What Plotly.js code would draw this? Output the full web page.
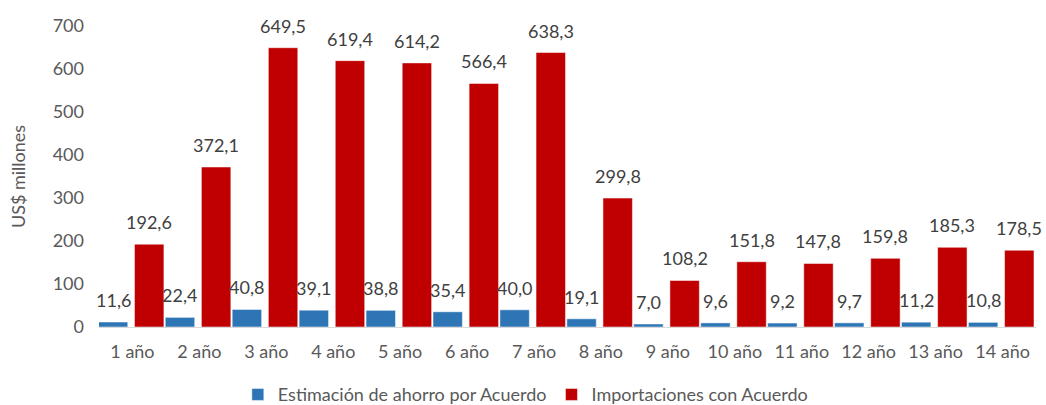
<!DOCTYPE html>
<html><head><meta charset="utf-8">
<script src="https://cdn.plot.ly/plotly-3.0.1.min.js"></script>
<style>body{margin:0;background:#fff}#c{width:1046px;height:405px}</style>
</head><body><div id="c"></div>
<script>
const categories = ["1 año","2 año","3 año","4 año","5 año","6 año","7 año","8 año","9 año","10 año","11 año","12 año","13 año","14 año"];
const ahorro = [11.6,22.4,40.8,39.1,38.8,35.4,40.0,19.1,7.0,9.6,9.2,9.7,11.2,10.8];
const importaciones = [192.6,372.1,649.5,619.4,614.2,566.4,638.3,299.8,108.2,151.8,147.8,159.8,185.3,178.5];
const seriesNames = ["Estimación de ahorro por Acuerdo","Importaciones con Acuerdo"];
const fmt = v => v.toFixed(1).replace('.', ',');
const font = "Lato, 'Open Sans', sans-serif";
const W = 0.44, OFF = [-0.51, 0.03];
const traces = [
  {type:'bar', x:categories, y:ahorro, name:seriesNames[0], marker:{color:'#2E75B6', line:{color:'#ffffff', width:0.5}},
   width:W, offset:OFF[0]},
  {type:'bar', x:categories, y:importaciones, name:seriesNames[1], marker:{color:'#C00000', line:{color:'#ffffff', width:0.5}},
   width:W, offset:OFF[1]}
];
const annotations = [];
[ahorro, importaciones].forEach((vals, s) => {
  vals.forEach((v, i) => {
    annotations.push({x: i + OFF[s] + W/2, y: v, xref:'x', yref:'y', text: fmt(v), showarrow:false,
      yanchor:'bottom', yshift:9, font:{size:18, color:'#404040', family:font}});
  });
});
const layout = {
  width:1046, height:405, margin:{l:99, r:10, t:26, b:78, autoexpand:false},
  paper_bgcolor:'#fff', plot_bgcolor:'#fff', barmode:'overlay',
  font:{family:font, size:18, color:'#595959'},
  showlegend:true, annotations,
  legend:{orientation:'h', x:0.455, xanchor:'center', y:-0.225, yanchor:'middle', font:{size:18, color:'#595959'}, traceorder:'normal', itemwidth:30},
  xaxis:{type:'category', showgrid:false, showline:true, linecolor:'#d9d9d9', linewidth:1, ticks:'', ticklabelstandoff:8, tickfont:{size:18, color:'#595959'}, range:[-0.5,13.5]},
  yaxis:{range:[0,700], dtick:100, showgrid:false, zeroline:false, showline:false, ticks:'', ticklabelstandoff:14, tickfont:{size:18, color:'#595959'},
    title:{text:'US$ millones', font:{size:18, color:'#595959'}, standoff:22}}
};
Plotly.newPlot('c', traces, layout, {displayModeBar:false, staticPlot:true});
</script></body></html>
